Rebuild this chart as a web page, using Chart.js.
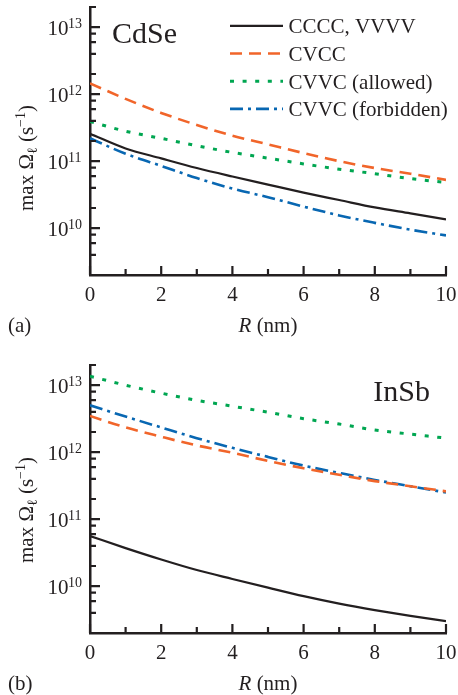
<!DOCTYPE html>
<html>
<head>
<meta charset="utf-8">
<script src="https://cdn.jsdelivr.net/npm/chart.js@4.4.1/dist/chart.umd.min.js"></script>
<style>
  html, body { margin: 0; padding: 0; background: #fff; }
  #wrap { position: relative; width: 458px; height: 695px; }
  canvas { position: absolute; left: 0; }
</style>
</head>
<body>
<div id="wrap">
  <canvas id="cdseChart" width="458" height="340" style="top:0"></canvas>
  <canvas id="insbChart" width="458" height="355" style="top:340px"></canvas>
</div>
<script>
// dot radius R (nm)
const radius = [0, 1, 2, 3, 4, 5, 6, 7, 8, 9, 10];

// (a) CdSe, max rate in s^-1
const cdseCCCC = [2.57e11, 1.55e11, 1.1e11, 7.9e10, 5.9e10, 4.47e10, 3.39e10, 2.63e10, 2.04e10, 1.66e10, 1.35e10];
const cdseCVCC = [1.45e12, 8.5e11, 5.25e11, 3.47e11, 2.4e11, 1.78e11, 1.32e11, 1.0e11, 7.9e10, 6.5e10, 5.25e10];
const cdseAllowed = [3.9e11, 2.8e11, 2.19e11, 1.7e11, 1.35e11, 1.11e11, 9.1e10, 7.6e10, 6.5e10, 5.5e10, 4.8e10];
const cdseForbidden = [2.2e11, 1.29e11, 8.5e10, 5.6e10, 3.9e10, 2.9e10, 2.1e10, 1.55e10, 1.2e10, 9.5e9, 7.8e9];

// (b) InSb
const insbCCCC = [5.6e10, 3.7e10, 2.5e10, 1.74e10, 1.28e10, 9.5e9, 7.1e9, 5.5e9, 4.4e9, 3.6e9, 3.0e9];
const insbCVCC = [3.47e12, 2.34e12, 1.7e12, 1.26e12, 9.8e11, 7.4e11, 5.75e11, 4.6e11, 3.7e11, 3.1e11, 2.6e11];
const insbAllowed = [1.36e13, 1.0e13, 7.6e12, 5.95e12, 4.85e12, 3.95e12, 3.16e12, 2.63e12, 2.14e12, 1.86e12, 1.62e12];
const insbForbidden = [5.0e12, 3.4e12, 2.34e12, 1.62e12, 1.16e12, 8.5e11, 6.3e11, 4.9e11, 3.85e11, 3.1e11, 2.5e11];

const seriesNames = ['CCCC, VVVV', 'CVCC', 'CVVC (allowed)', 'CVVC (forbidden)'];
const xTickLabels = [0, 2, 4, 6, 8, 10];
const yDecades = [10, 11, 12, 13];

const INK = '#231f20';
const SERIF = '"Liberation Serif", "Times New Roman", serif';

const lineStyles = [
  { color: INK, dash: [], width: 2.2 },
  { color: '#f1652a', dash: [12, 7], width: 2.6 },
  { color: '#00a651', dash: [4, 8.6], width: 3 },
  { color: '#0867b2', dash: [13, 5, 3, 5], width: 2.6 },
];

function makeDatasets(series) {
  return series.map((vals, i) => ({
    label: seriesNames[i],
    data: vals.map((v, k) => ({ x: radius[k], y: v })),
    borderColor: lineStyles[i].color,
    borderDash: lineStyles[i].dash,
    borderWidth: lineStyles[i].width,
    borderCapStyle: 'butt',
    pointRadius: 0,
    fill: false,
    cubicInterpolationMode: 'monotone',
  }));
}

// draws a run of text pieces with their own size and baseline shift
function drawRun(ctx, parts, x, y) {
  let cx = x;
  for (const p of parts) {
    ctx.font = `${p.italic ? 'italic ' : ''}${p.size}px ${SERIF}`;
    ctx.fillText(p.t, cx, y + (p.dy || 0));
    cx += ctx.measureText(p.t).width;
  }
}
function runWidth(ctx, parts) {
  let w = 0;
  for (const p of parts) {
    ctx.font = `${p.italic ? 'italic ' : ''}${p.size}px ${SERIF}`;
    w += ctx.measureText(p.t).width;
  }
  return w;
}

const axisDecor = {
  id: 'axisDecor',
  afterDraw(chart, args, opts) {
    const ctx = chart.ctx;
    const xs = chart.scales.x, ys = chart.scales.y;
    const { left, right, top, bottom } = chart.chartArea;
    ctx.save();
    ctx.fillStyle = INK;
    ctx.textBaseline = 'alphabetic';

    // y tick labels 10^n
    for (const n of yDecades) {
      const y = ys.getPixelForValue(Math.pow(10, n));
      ctx.font = `21px ${SERIF}`;
      ctx.textAlign = 'right';
      ctx.fillText('10', left - 21.5, y + 7.5);
      ctx.font = `14px ${SERIF}`;
      ctx.textAlign = 'left';
      ctx.fillText(String(n), left - 22, y + 0.5);
    }

    // x tick labels
    ctx.font = `21px ${SERIF}`;
    ctx.textAlign = 'center';
    for (const r of xTickLabels) {
      ctx.fillText(String(r), xs.getPixelForValue(r), bottom + 26);
    }

    // x title
    ctx.textAlign = 'left';
    const xTitle = [
      { t: 'R', size: 21, italic: true },
      { t: ' (nm)', size: 21 },
    ];
    const xw = runWidth(ctx, xTitle);
    drawRun(ctx, xTitle, (left + right) / 2 - xw / 2, bottom + 56.5);

    // y title, rotated
    const yTitle = [
      { t: 'max \u03A9', size: 21 },
      { t: '\u2113', size: 14, dy: 4 },
      { t: ' (s', size: 21 },
      { t: '\u22121', size: 14, dy: -8 },
      { t: ')', size: 21 },
    ];
    const yw = runWidth(ctx, yTitle);
    ctx.save();
    ctx.translate(33, opts.yTitleY);
    ctx.rotate(-Math.PI / 2);
    drawRun(ctx, yTitle, -yw / 2, 0);
    ctx.restore();

    // panel tag and material name
    ctx.font = `21px ${SERIF}`;
    ctx.textAlign = 'left';
    ctx.fillText(opts.tag, 8, bottom + 57);
    ctx.font = `30px ${SERIF}`;
    ctx.textAlign = opts.nameAlign;
    ctx.fillText(opts.name, opts.nameX, opts.nameY);

    // legend
    if (opts.legend) {
      chart.data.datasets.forEach((ds, i) => {
        const base = 33.3 + i * 27.7;
        const ly = base - 7.5;
        ctx.strokeStyle = ds.borderColor;
        ctx.lineWidth = ds.borderWidth;
        ctx.lineCap = 'butt';
        ctx.setLineDash(ds.borderDash);
        ctx.beginPath();
        ctx.moveTo(230, ly);
        ctx.lineTo(283, ly);
        ctx.stroke();
        ctx.setLineDash([]);
        ctx.fillStyle = INK;
        ctx.font = `21px ${SERIF}`;
        ctx.textAlign = 'left';
        ctx.fillText(ds.label, 288.5, base);
      });
    }

    // inward ticks on the log axis: decades long, 2/4/6/8 short
    ctx.setLineDash([]);
    ctx.strokeStyle = INK;
    ctx.lineWidth = 2.2;
    ctx.lineCap = 'butt';
    ctx.beginPath();
    for (let n = 9; n <= 13; n++) {
      for (const m of [1, 2, 4, 6, 8]) {
        const v = m * Math.pow(10, n);
        if (v < 1.999e9 || v > 2.001e13) continue;
        const y = ys.getPixelForValue(v);
        ctx.moveTo(left, y);
        ctx.lineTo(left + (m === 1 ? 10 : 6), y);
      }
    }
    // x ticks every 1 nm, longer at labelled ones
    for (let r = 0; r <= 10; r++) {
      const x = xs.getPixelForValue(r);
      ctx.moveTo(x, bottom);
      ctx.lineTo(x, bottom - (r % 2 === 0 ? 9 : 6));
    }
    ctx.stroke();
    ctx.restore();
  },
};

function buildChart(id, series, padTop, xHeight, decor) {
  return new Chart(document.getElementById(id), {
    type: 'line',
    data: { datasets: makeDatasets(series) },
    options: {
      responsive: false,
      animation: false,
      devicePixelRatio: 1,
      layout: { padding: { left: 0, right: 12, top: padTop, bottom: 0 } },
      plugins: { legend: { display: false }, tooltip: { enabled: false }, axisDecor: decor },
      scales: {
        x: {
          type: 'linear',
          min: 0,
          max: 10,
          grid: { display: false, drawTicks: false },
          border: { display: true, color: INK, width: 2.5 },
          ticks: { display: false },
          afterFit: (s) => { s.height = xHeight; },
        },
        y: {
          type: 'logarithmic',
          min: 2e9,
          max: 2e13,
          grid: { display: false, drawTicks: false },
          border: { display: true, color: INK, width: 2.5 },
          ticks: { display: false },
          afterFit: (s) => { s.width = 90; },
        },
      },
    },
    plugins: [axisDecor],
  });
}

buildChart('cdseChart', [cdseCCCC, cdseCVCC, cdseAllowed, cdseForbidden], 7, 65,
  { tag: '(a)', name: 'CdSe', nameX: 112, nameY: 43, nameAlign: 'left', yTitleY: 158, legend: true });
buildChart('insbChart', [insbCCCC, insbCVCC, insbAllowed, insbForbidden], 25, 62,
  { tag: '(b)', name: 'InSb', nameX: 430, nameY: 61, nameAlign: 'right', yTitleY: 170, legend: false });
</script>
</body>
</html>
